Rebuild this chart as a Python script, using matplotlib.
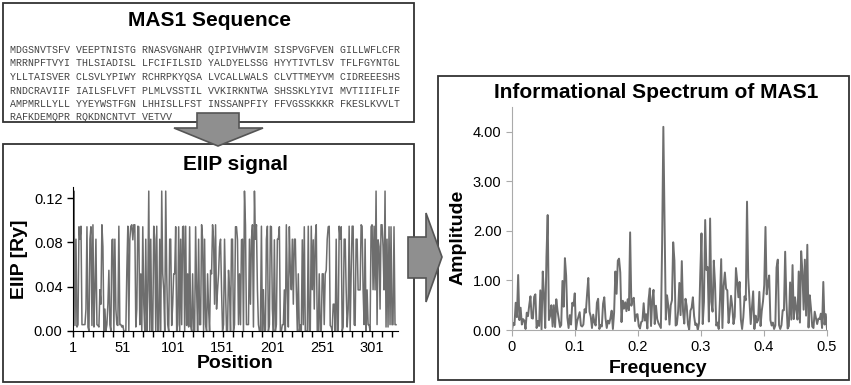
import numpy as np
import matplotlib
matplotlib.use('Agg')
import matplotlib.pyplot as plt
from matplotlib.patches import Rectangle, Polygon

plt.rcParams['font.family'] = ['Liberation Sans', 'DejaVu Sans']

seq_lines = [
    'MDGSNVTSFV VEEPTNISTG RNASVGNAHR QIPIVHWVIM SISPVGFVEN GILLWFLCFR',
    'MRRNPFTVYI THLSIADISL LFCIFILSID YALDYELSSG HYYTIVTLSV TFLFGYNTGL',
    'YLLTAISVER CLSVLYPIWY RCHRPKYQSA LVCALLWALS CLVTTMEYVM CIDREEESHS',
    'RNDCRAVIIF IAILSFLVFT PLMLVSSTIL VVKIRKNTWA SHSSKLYIVI MVTIIIFLIF',
    'AMPMRLLYLL YYEYWSTFGN LHHISLLFST INSSANPFIY FFVGSSKKKR FKESLKVVLT',
    'RAFKDEMQPR RQKDNCNTVT VETVV',
]
# EIIP value of each amino acid [Ry]
eiip = {'L': 0.0000, 'I': 0.0000, 'N': 0.0036, 'G': 0.0050, 'V': 0.0057,
        'E': 0.0058, 'P': 0.0198, 'H': 0.0242, 'K': 0.0371, 'A': 0.0373,
        'Y': 0.0516, 'W': 0.0548, 'Q': 0.0761, 'M': 0.0823, 'S': 0.0829,
        'C': 0.0829, 'T': 0.0941, 'F': 0.0946, 'R': 0.0959, 'D': 0.1263}

# informational spectrum amplitudes (x100), frequency 0 .. 0.5
spectrum_x100 = [
    0, 14, 10, 55, 26, 111, 20, 45, 11, 22, 19, 2, 35, 28, 50, 68, 24, 23, 67, 72,
    4, 18, 8, 80, 1, 118, 70, 4, 148, 232, 20, 29, 50, 7, 50, 6, 62, 39, 22, 6,
    10, 99, 47, 145, 110, 25, 4, 30, 11, 55, 49, 74, 1, 18, 27, 36, 9, 7, 11, 42,
    35, 72, 105, 37, 27, 4, 31, 15, 9, 55, 63, 2, 10, 7, 53, 66, 24, 4, 19, 13,
    24, 39, 2, 36, 118, 73, 140, 144, 116, 16, 59, 43, 56, 38, 62, 40, 197, 49, 62, 65,
    18, 31, 32, 8, 3, 16, 18, 54, 19, 32, 3, 61, 84, 8, 62, 81, 12, 49, 22, 14,
    9, 4, 174, 410, 214, 21, 70, 49, 11, 50, 60, 177, 140, 9, 11, 38, 95, 30, 139, 38,
    13, 63, 48, 11, 1, 39, 45, 66, 28, 10, 13, 0, 14, 112, 195, 12, 57, 222, 121, 127,
    17, 225, 57, 37, 140, 93, 9, 15, 2, 61, 143, 4, 89, 116, 83, 80, 14, 37, 69, 48,
    12, 27, 125, 99, 66, 97, 21, 2, 26, 68, 60, 259, 106, 60, 12, 44, 78, 2, 29, 15,
    20, 77, 8, 39, 58, 91, 208, 72, 94, 110, 20, 9, 15, 2, 9, 126, 142, 10, 2, 10,
    40, 40, 158, 58, 3, 8, 96, 21, 131, 22, 66, 42, 21, 118, 15, 159, 118, 41, 142, 29,
    172, 5, 70, 43, 7, 4, 37, 25, 12, 23, 22, 33, 4, 97, 11, 32, 2,
]

residues = ''.join(seq_lines).replace(' ', '')
signal = [eiip[a] for a in residues]
positions = np.arange(1, len(signal) + 1)
amp = np.array(spectrum_x100) / 100
freq = np.linspace(0, 0.5, len(amp))

W, H = 851, 385
fig = plt.figure(figsize=(W / 100, H / 100), dpi=100)


def rect(l, t, r, b):
    return [l / W, 1 - b / H, (r - l) / W, (b - t) / H]


# frames and sequence text
bg = fig.add_axes([0, 0, 1, 1])
bg.set_xlim(0, W)
bg.set_ylim(H, 0)
bg.axis('off')
for l, t, r, b in [(3, 3, 414, 122), (3, 144, 414, 382), (438, 76, 849, 380)]:
    bg.add_patch(Rectangle((l, t), r - l, b - t, fill=False, ec='#333333', lw=1.3))
bg.text(209, 20, 'MAS1 Sequence', ha='center', va='center', fontsize=15, fontweight='bold')
for i, line in enumerate(seq_lines):
    bg.text(10, 50 + i * 13.5, line, ha='left', va='center', fontsize=7.2,
            family='Liberation Mono', color='#444444')
bg.text(656, 93, 'Informational Spectrum of MAS1', ha='center', va='center',
        fontsize=15, fontweight='bold')

gray = '#6e6e6e'

# EIIP signal
ax1 = fig.add_axes(rect(73, 187, 398, 331))
ax1.plot(positions, signal, color=gray, lw=1.1)
ax1.set_xlim(1, 327)
ax1.set_ylim(0, 0.13)
ax1.set_yticks([0, 0.04, 0.08, 0.12])
ax1.set_yticklabels(['0.00', '0.04', '0.08', '0.12'])
ax1.set_xticks(np.arange(1, 302, 50))
ax1.set_xticks(np.arange(1, 327, 10), minor=True)
ax1.tick_params(labelsize=10.5, length=4, width=1)
ax1.tick_params(which='minor', length=4, width=1)
for s in ['top', 'right']:
    ax1.spines[s].set_visible(False)
ax1.set_title('EIIP signal', fontsize=15, fontweight='bold', pad=12)
ax1.set_xlabel('Position', fontsize=14, fontweight='bold', labelpad=0)
ax1.set_ylabel('EIIP [Ry]', fontsize=14, fontweight='bold', labelpad=4)

# informational spectrum
ax2 = fig.add_axes(rect(512, 107, 827, 330))
ax2.plot(freq, amp, color=gray, lw=1.4)
ax2.set_xlim(0, 0.5)
ax2.set_ylim(0, 4.5)
ax2.set_yticks([0, 1, 2, 3, 4])
ax2.set_yticklabels(['0.00', '1.00', '2.00', '3.00', '4.00'])
ax2.set_xticks([0, 0.1, 0.2, 0.3, 0.4, 0.5])
ax2.set_xticklabels(['0', '0.1', '0.2', '0.3', '0.4', '0.5'])
ax2.tick_params(labelsize=10.5, length=4, color='#aaaaaa')
for s in ['top', 'right']:
    ax2.spines[s].set_visible(False)
for s in ['left', 'bottom']:
    ax2.spines[s].set_color('#aaaaaa')
ax2.set_xlabel('Frequency', fontsize=14, fontweight='bold')
ax2.set_ylabel('Amplitude', fontsize=14, fontweight='bold')
ax2.xaxis.set_label_coords(0.463, -0.135)
ax2.yaxis.set_label_coords(-0.145, 0.417)

# block arrows
fg = fig.add_axes([0, 0, 1, 1])
fg.set_xlim(0, W)
fg.set_ylim(H, 0)
fg.axis('off')
fg.add_patch(Polygon([(197, 113), (239, 113), (239, 128), (263, 128), (218, 146),
                      (174, 128), (197, 128)], fc='#8f8f8f', ec='#555555', lw=1.2))
fg.add_patch(Polygon([(408, 237), (426, 237), (426, 213), (442, 257), (426, 302),
                      (426, 278), (408, 278)], fc='#8f8f8f', ec='#555555', lw=1.2))

fig.savefig('out.png', dpi=100)
